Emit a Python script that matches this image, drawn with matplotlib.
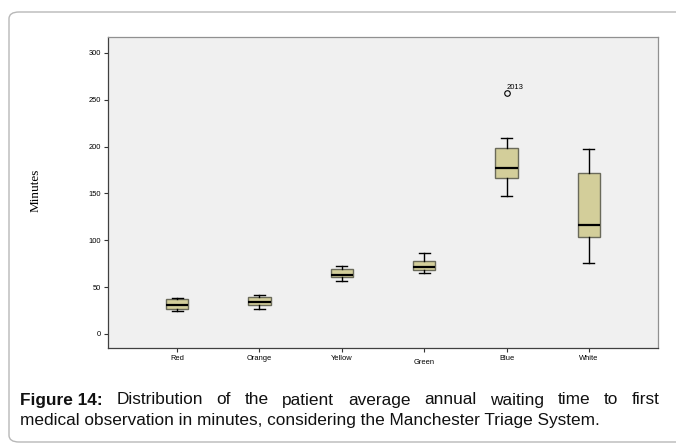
import matplotlib
matplotlib.use("Agg")
import matplotlib.pyplot as plt
from matplotlib import font_manager
from matplotlib.patches import FancyBboxPatch

# Triage colour categories and their box statistics (minutes)
categories = ["Red", "Orange", "Yellow", "Green", "Blue", "White"]
whisker_low = [25, 27, 57, 65, 147, 76]
q1 = [27, 31, 61, 68, 167, 103]
median = [31, 34, 63, 72, 177, 116]
q3 = [37, 39, 69, 78, 199, 172]
whisker_high = [38, 42, 73, 86, 209, 197]
outliers = [[], [], [], [], [257], []]
outlier_labels = {4: "2013"}

yticks = [0, 50, 100, 150, 200, 250, 300]

FIG_W, FIG_H = 676, 446
fig = plt.figure(figsize=(FIG_W / 100, FIG_H / 100), dpi=100)
fig.patch.set_facecolor("white")

# rounded frame around the figure + caption
frame = FancyBboxPatch((9 / FIG_W, 4 / FIG_H), 700 / FIG_W, 430 / FIG_H,
                       boxstyle="round,pad=0,rounding_size=0.015",
                       transform=fig.transFigure, facecolor="none",
                       edgecolor="#b8b8b8", linewidth=1.0, clip_on=False)
fig.patches.append(frame)

ax = fig.add_axes([108 / FIG_W, 1 - 348 / FIG_H, 550 / FIG_W, 311 / FIG_H])
ax.set_facecolor("#f0f0f0")

stats = []
for i, name in enumerate(categories):
    stats.append({
        "label": name, "whislo": whisker_low[i], "q1": q1[i], "med": median[i],
        "q3": q3[i], "whishi": whisker_high[i], "fliers": outliers[i],
    })

positions = list(range(1, len(categories) + 1))
ax.bxp(stats, positions=positions, widths=0.27, patch_artist=True,
       boxprops=dict(facecolor="#d3ce9a", edgecolor="#6a6a5a", linewidth=1.0),
       medianprops=dict(color="black", linewidth=1.6),
       whiskerprops=dict(color="black", linewidth=1.0),
       capprops=dict(color="black", linewidth=1.0),
       flierprops=dict(marker="o", markersize=4, markerfacecolor="none",
                       markeredgecolor="black", markeredgewidth=0.8))

for i, lab in outlier_labels.items():
    ax.annotate(lab, (positions[i], outliers[i][0]), xytext=(0, 3),
                textcoords="offset points", fontsize=5.5,
                family="Liberation Sans")

ax.set_xlim(0.16, 6.84)
ax.set_ylim(-15, 317)
ax.set_yticks(yticks)
ax.set_xticks(positions)
ax.set_xticklabels(categories)
ax.tick_params(axis="both", labelsize=5.4, length=3, width=0.8,
               color="#333333", pad=2)
for lab in ax.get_xticklabels() + ax.get_yticklabels():
    lab.set_family("Liberation Sans")
# the "Green" label sits slightly lower
ax.get_xticklabels()[3].set_y(-0.012)

for side in ["left", "bottom"]:
    ax.spines[side].set_color("#404040")
for side in ["top", "right"]:
    ax.spines[side].set_color("#909090")
for sp in ax.spines.values():
    sp.set_linewidth(0.9)

fig.text(36 / FIG_W, 1 - 190 / FIG_H, "Minutes", rotation=90, ha="center",
         va="center", fontsize=9.5, family="Liberation Serif")

# caption: pick a narrow face if one is installed
installed = {f.name for f in font_manager.fontManager.ttflist}
cap_family = "Liberation Sans Narrow" if "Liberation Sans Narrow" in installed \
    else "Liberation Sans"
line1 = ["Figure 14:", "Distribution", "of", "the", "patient", "average",
         "annual", "waiting", "time", "to", "first"]
line2 = "medical observation in minutes, considering the Manchester Triage System."
x_left, x_right, x_end2 = 20, 660, 597
y1, y2 = 400, 421

fig.canvas.draw()
renderer = fig.canvas.get_renderer()

# size the caption so the second line spans its measured width
size = 11.0
probe = fig.text(0, 0, line2, fontsize=size, family=cap_family)
w2 = probe.get_window_extent(renderer).width
probe.remove()
size = size * (x_end2 - x_left) / w2
cap_font = dict(fontsize=size, family=cap_family, color="#111111")

words = []
for k, w in enumerate(line1):
    t = fig.text(0, 1 - y1 / FIG_H, w, va="center", ha="left",
                 fontweight="bold" if k == 0 else "normal", **cap_font)
    words.append(t)
widths = [t.get_window_extent(renderer).width for t in words]
gap = (x_right - x_left - sum(widths)) / (len(words) - 1)
x = x_left
for t, wd in zip(words, widths):
    t.set_x(x / FIG_W)
    x += wd + gap

fig.text(x_left / FIG_W, 1 - y2 / FIG_H, line2, va="center", ha="left",
         **cap_font)

fig.savefig("out.png", dpi=100)
